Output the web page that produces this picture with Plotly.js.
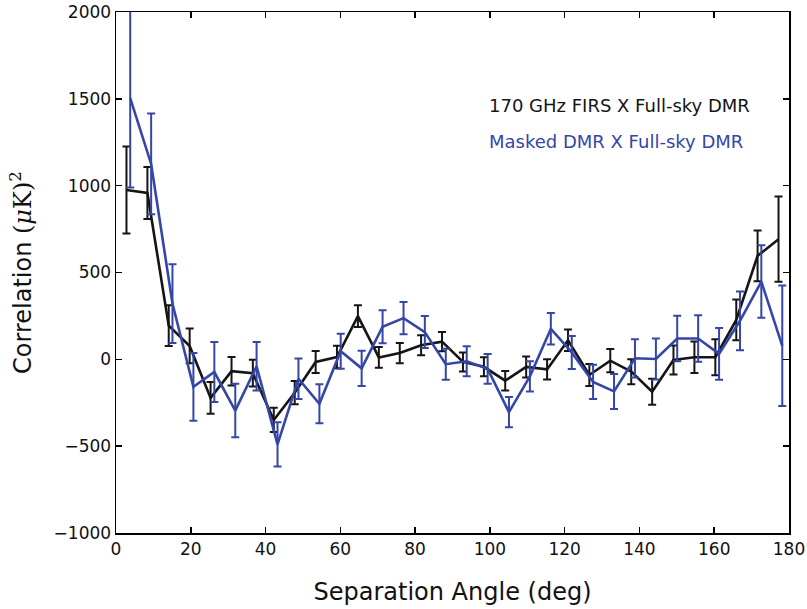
<!DOCTYPE html>
<html>
<head>
<meta charset="utf-8">
<script src="https://cdn.plot.ly/plotly-3.0.1.min.js"></script>
<style>html,body{margin:0;padding:0;background:#fff;}#chart{width:807px;height:609px;}</style>
</head>
<body>
<div id="chart"></div>
<script>
// Bin centres (deg)
const firsAngle = [2.8,8.4,14.1,19.7,25.3,30.9,36.6,42.2,47.8,53.4,59.1,64.7,70.3,75.9,81.6,87.2,92.8,98.4,104.1,109.7,115.3,120.9,126.6,132.2,137.8,143.4,149.1,154.7,160.3,165.9,171.6,177.2];
const firsCorr = [975,958,194,77,-222,-68,-80,-349,-192,-15,13,249,11,36,81,102,-15,-43,-123,-44,-58,110,-90,-8,-71,-187,-4,12,12,227,596,692];
const firsErr = [250,150,117,100,92,82,77,70,67,63,65,63,60,58,58,55,55,55,56,60,58,62,63,67,72,75,84,90,104,117,146,245];

const maskAngle = [3.8,9.4,15.1,20.7,26.3,31.9,37.6,43.2,48.8,54.4,60.1,65.7,71.3,76.9,82.6,88.2,93.8,99.4,105.1,110.7,116.3,121.9,127.6,133.2,138.8,144.4,150.1,155.7,161.3,166.9,172.6,178.2];
const maskCorr = [1504,1125,321,-158,-73,-295,-40,-490,-112,-256,47,-52,188,237,157,-28,-11,-55,-304,-98,176,40,-130,-185,6,2,120,120,32,222,448,78];
const maskErr = [514,290,227,195,173,154,140,127,117,112,101,102,95,93,92,89,87,85,87,87,91,95,99,101,110,118,131,134,149,169,209,347];

const seriesNames = ['170 GHz FIRS X Full-sky DMR', 'Masked DMR X Full-sky DMR'];
const xTitle = 'Separation Angle (deg)';
const yTitle = 'Correlation <span style="font-family:\'DejaVu Serif\',serif">(<i>μ</i>K)<sup>2</sup></span>';

const black = '#151515';
const blue = '#3446a8';

const traces = [
  {x: firsAngle, y: firsCorr, type: 'scatter', mode: 'lines', name: seriesNames[0],
   line: {color: black, width: 2.6},
   error_y: {type: 'data', array: firsErr, visible: true, color: black, thickness: 2, width: 4}},
  {x: maskAngle, y: maskCorr, type: 'scatter', mode: 'lines', name: seriesNames[1],
   line: {color: blue, width: 2.6},
   error_y: {type: 'data', array: maskErr, visible: true, color: blue, thickness: 2, width: 4}}
];

const axisCommon = {
  showline: true, linecolor: '#000', linewidth: 1.5, mirror: 'ticks',
  ticks: 'inside', ticklen: 6, tickwidth: 1.5, tickcolor: '#000',
  showgrid: false, zeroline: false,
  tickfont: {family: 'DejaVu Sans', size: 17, color: '#111'}
};

const layout = {
  width: 807, height: 609,
  margin: {l: 116, r: 18, t: 12, b: 76},
  paper_bgcolor: '#fff', plot_bgcolor: '#fff',
  showlegend: false,
  xaxis: Object.assign({}, axisCommon, {
    range: [0, 180], dtick: 20, tick0: 0,
    title: {text: xTitle, font: {family: 'DejaVu Sans', size: 24, color: '#111'}, standoff: 25}
  }),
  yaxis: Object.assign({}, axisCommon, {
    range: [-1000, 2000], dtick: 500, tick0: 0,
    title: {text: yTitle, font: {family: 'DejaVu Sans', size: 24, color: '#111'}, standoff: 15}
  }),
  annotations: [
    {xref: 'paper', yref: 'paper', x: 0.552, y: 0.82, xanchor: 'left', yanchor: 'middle', showarrow: false,
     text: seriesNames[0], font: {family: 'DejaVu Sans', size: 18, color: black}},
    {xref: 'paper', yref: 'paper', x: 0.552, y: 0.752, xanchor: 'left', yanchor: 'middle', showarrow: false,
     text: seriesNames[1], font: {family: 'DejaVu Sans', size: 18, color: blue}}
  ]
};

Plotly.newPlot('chart', traces, layout, {displayModeBar: false, staticPlot: true});
</script>
</body>
</html>
